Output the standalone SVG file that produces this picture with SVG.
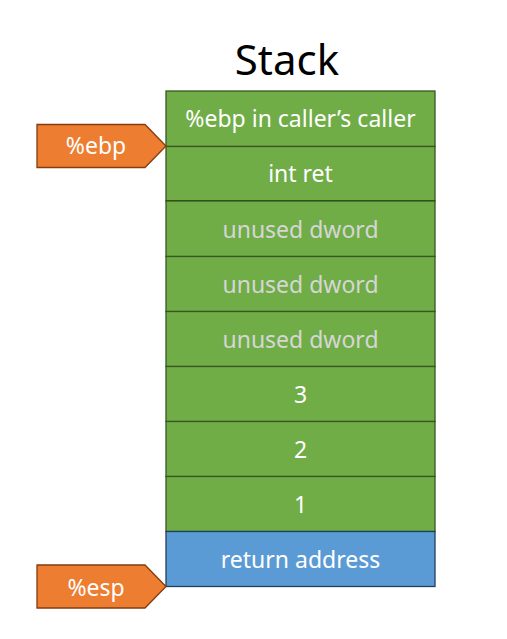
<svg xmlns="http://www.w3.org/2000/svg" width="507" height="639" viewBox="0 0 507 639">
<style>
.cell{fill:#70AD47;stroke:#385723;stroke-width:1.3}
.ret{fill:#5B9BD5;stroke:#1F3F60;stroke-width:1.3}
.ptr{fill:#ED7D31;stroke:#843C0C;stroke-width:1.3}
text{font-family:"Noto Sans","Liberation Sans",sans-serif;text-anchor:middle}
.t{font-size:23px;fill:#FFFFFF}
.u{font-size:23px;fill:#D6D6D6}
.title{font-size:42px;fill:#000000}
</style>
<rect width="507" height="639" fill="#FFFFFF"/>
<text class="title" x="287" y="75">Stack</text>
<g id="cell-ebp-callers-caller"><rect class="cell" x="166" y="91" width="269" height="55.5"/><text class="t" x="300.5" y="127">%ebp in caller’s caller</text></g>
<g id="cell-int-ret"><rect class="cell" x="166" y="146.5" width="269" height="54.5"/><text class="t" x="300.5" y="182">int ret</text></g>
<line x1="166" y1="201" x2="435" y2="201" stroke="#2A4219" stroke-width="2.2"/>
<g id="cell-unused-1"><rect class="cell" x="166" y="201" width="269" height="55.5"/><text class="u" x="300.5" y="238">unused dword</text></g>
<g id="cell-unused-2"><rect class="cell" x="166" y="256.5" width="269" height="55"/><text class="u" x="300.5" y="293">unused dword</text></g>
<g id="cell-unused-3"><rect class="cell" x="166" y="311.5" width="269" height="55"/><text class="u" x="300.5" y="348">unused dword</text></g>
<g id="cell-3"><rect class="cell" x="166" y="366.5" width="269" height="55"/><text class="t" x="300.5" y="403">3</text></g>
<g id="cell-2"><rect class="cell" x="166" y="421.5" width="269" height="55"/><text class="t" x="300.5" y="458">2</text></g>
<g id="cell-1"><rect class="cell" x="166" y="476.5" width="269" height="55"/><text class="t" x="300.5" y="513">1</text></g>
<g id="cell-return-address"><rect class="ret" x="166" y="531.5" width="269" height="55"/><text class="t" x="300.5" y="568">return address</text></g>
<g id="ptr-ebp"><polygon class="ptr" points="37,124.5 145,124.5 166,146 145,167.5 37,167.5"/><text class="t" x="96" y="154">%ebp</text></g>
<g id="ptr-esp"><polygon class="ptr" points="37,565 145,565 166,586.5 145,608 37,608"/><text class="t" x="96" y="596">%esp</text></g>
<g id="connectors"></g>
</svg>
